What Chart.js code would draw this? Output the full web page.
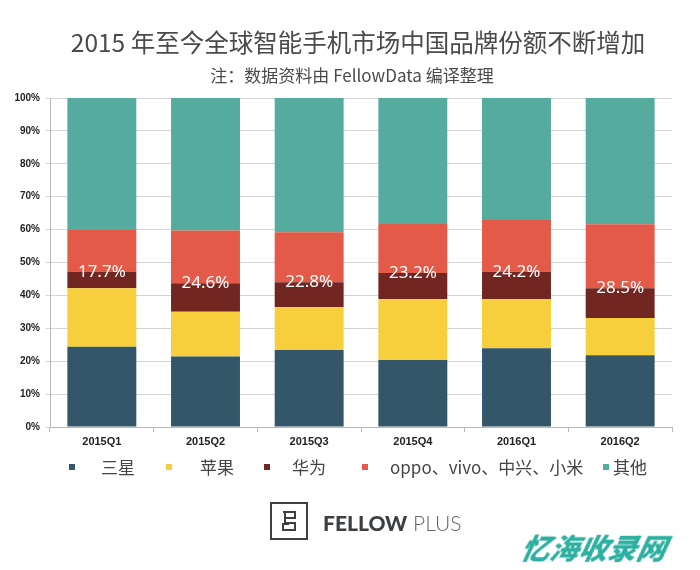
<!DOCTYPE html>
<html>
<head>
<meta charset="utf-8">
<script src="https://cdn.jsdelivr.net/npm/chart.js@4/dist/chart.umd.min.js"></script>
<style>
  body { margin: 0; background: #fff; }
  #wrap { position: relative; width: 700px; height: 570px; overflow: hidden; }
  #shareChart { position: absolute; left: 0; top: 0; }
  .title { position: absolute; left: 0; width: 700px; text-align: center; color: #4a4a4a;
           font-family: "Noto Sans CJK SC", sans-serif; white-space: nowrap; }
  #legend span { position: absolute; white-space: nowrap; }
  .swatch { width: 6px; height: 6px; }
  .legText { font-family: "Noto Sans CJK SC", sans-serif; font-size: 17px; color: #444; line-height: 20px; }
  #logoBox { position: absolute; left: 270px; top: 502px; width: 34px; height: 34px; border: 2px solid #3c3f44; }
  #logoText { position: absolute; left: 323px; top: 510px; font-family: Lato, sans-serif; font-size: 21px;
              line-height: 26px; color: #3c3f44; white-space: nowrap; }
  #mark { position: absolute; left: 522px; top: 529px; font-family: "Noto Sans CJK SC", sans-serif;
          font-size: 29px; font-weight: 900; font-style: italic; color: #2db0a1; line-height: 34px;
          transform: skewX(-12deg); }
</style>
</head>
<body>
<div id="wrap">
  <canvas id="shareChart" width="700" height="570"></canvas>
  <div class="title" style="top:25px;font-size:24.5px;line-height:34px;left:8px;">2015 年至今全球智能手机市场中国品牌份额不断增加</div>
  <div class="title" style="top:63px;font-size:17px;line-height:24px;left:2px;">注：数据资料由 FellowData 编译整理</div>
  <div id="legend"></div>
  <div id="logoBox">
    <svg width="34" height="34" viewBox="0 0 34 34">
      <path d="M11 8 H23 V14 H13 V19 H23 V26 H11 V20 H17 M13 14 V8" fill="none" stroke="#3c3f44" stroke-width="2"/>
    </svg>
  </div>
  <div id="logoText"><b style="font-weight:900">FELLOW</b><span style="font-weight:300;color:#666"> PLUS</span></div>
  <div id="mark">忆海收录网</div>
</div>
<script>
const categories = ['2015Q1', '2015Q2', '2015Q3', '2015Q4', '2016Q1', '2016Q2'];
const samsung = [24.4, 21.4, 23.4, 20.4, 23.9, 21.8];
const apple = [17.8, 13.6, 13.0, 18.5, 15.0, 11.3];
const huawei = [5.0, 8.7, 7.6, 7.9, 8.3, 9.1];
const cnOthers = [12.7, 16.0, 15.2, 14.9, 15.7, 19.4];
const others = [40.1, 40.3, 40.8, 38.3, 37.1, 38.4];
const chinaShare = ['17.7%', '24.6%', '22.8%', '23.2%', '24.2%', '28.5%'];

const seriesNames = ['三星', '苹果', '华为', 'oppo、vivo、中兴、小米', '其他'];
const seriesColors = ['#335769', '#f7cf3c', '#722621', '#e35a49', '#56ab9f'];

// legend layout: swatch x, text x
const legendPos = [[69, 101], [166, 200], [264, 292], [362, 390], [603, 613]];

function buildLegend() {
    const legend = document.getElementById('legend');
    seriesNames.forEach(function (name, i) {
        const sw = document.createElement('span');
        sw.className = 'swatch';
        sw.style.left = legendPos[i][0] + 'px';
        sw.style.top = '464px';
        sw.style.background = seriesColors[i];
        legend.appendChild(sw);
        const tx = document.createElement('span');
        tx.className = 'legText';
        tx.style.left = legendPos[i][1] + 'px';
        tx.style.top = '457px';
        tx.textContent = name;
        legend.appendChild(tx);
    });
}

const shareLabelPlugin = {
    id: 'shareLabels',
    afterDatasetsDraw(chart) {
        const ctx = chart.ctx;
        const meta = chart.getDatasetMeta(2);
        ctx.save();
        ctx.fillStyle = '#ffffff';
        ctx.font = '17px "Noto Sans"';
        ctx.textAlign = 'center';
        ctx.textBaseline = 'middle';
        meta.data.forEach(function (bar, i) {
            ctx.fillText(chinaShare[i], bar.x, bar.y);
        });
        ctx.restore();
    }
};

function initializeChart() {
    const ctx = document.getElementById('shareChart').getContext('2d');
    const values = [samsung, apple, huawei, cnOthers, others];

    const data = {
        labels: categories,
        datasets: values.map(function (v, i) {
            return {
                label: seriesNames[i],
                data: v,
                backgroundColor: seriesColors[i],
                borderWidth: 0,
                categoryPercentage: 1,
                barPercentage: 0.665
            };
        })
    };

    const config = {
        type: 'bar',
        data: data,
        options: {
            responsive: false,
            animation: false,
            devicePixelRatio: 1,
            layout: {
                padding: { top: 98, right: 28, bottom: 113, left: 0 }
            },
            plugins: {
                legend: { display: false },
                tooltip: { enabled: false }
            },
            scales: {
                x: {
                    stacked: true,
                    afterFit: function (scale) { scale.height = 30; },
                    grid: {
                        drawOnChartArea: false,
                        tickLength: 5,
                        color: '#b8b8b8'
                    },
                    border: { color: '#b8b8b8' },
                    ticks: {
                        padding: 3,
                        color: '#222',
                        font: { family: 'Liberation Sans', size: 11, weight: 'bold' }
                    }
                },
                y: {
                    stacked: true,
                    min: 0,
                    max: 100,
                    afterFit: function (scale) { scale.width = 50; },
                    grid: {
                        color: '#d4d4d4',
                        tickLength: 4
                    },
                    border: { color: '#b8b8b8' },
                    ticks: {
                        stepSize: 10,
                        padding: 6,
                        color: '#222',
                        font: { family: 'Liberation Sans', size: 10, weight: 'bold' },
                        callback: function (value) {
                            return value + '%';
                        }
                    }
                }
            }
        },
        plugins: [shareLabelPlugin]
    };

    new Chart(ctx, config);
}

document.addEventListener('DOMContentLoaded', function () {
    buildLegend();
    initializeChart();
});
</script>
</body>
</html>
